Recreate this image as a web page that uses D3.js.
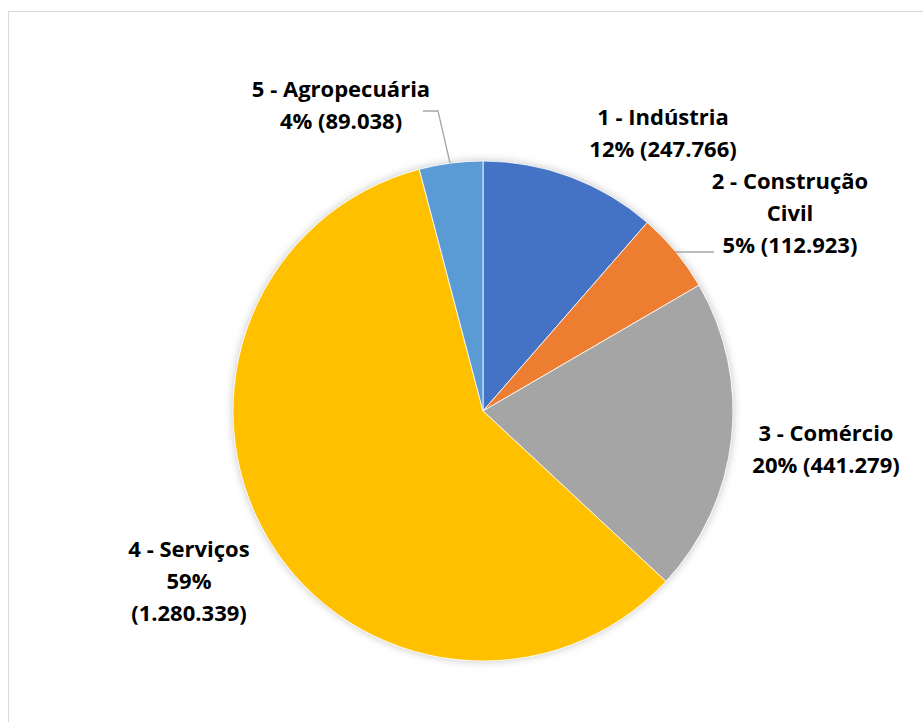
<!DOCTYPE html>
<html>
<head>
<meta charset="utf-8">
<script src="https://cdn.jsdelivr.net/npm/d3@7"></script>
<style>
  body { margin: 0; background: #fff; }
  text { font-family: "Open Sans", Lato, sans-serif; font-weight: 700; fill: #000; }
</style>
</head>
<body>
<svg id="chart"></svg>
<script>
var width = 923, height = 722;

var categories = ["1 - Indústria", "2 - Construção Civil", "3 - Comércio", "4 - Serviços", "5 - Agropecuária"];
var values = [247766, 112923, 441279, 1280339, 89038];
var pctLabels = ["12%", "5%", "20%", "59%", "4%"];
var valueLabels = ["(247.766)", "(112.923)", "(441.279)", "(1.280.339)", "(89.038)"];
var colors = ["#4472C4", "#ED7D31", "#A5A5A5", "#FFC000", "#5B9BD5"];

// label lines as in the picture (manually wrapped)
var labelLines = [
    [categories[0], pctLabels[0] + " " + valueLabels[0]],
    ["2 - Construção", "Civil", pctLabels[1] + " " + valueLabels[1]],
    [categories[2], pctLabels[2] + " " + valueLabels[2]],
    [categories[3], pctLabels[3], valueLabels[3]],
    [categories[4], pctLabels[4] + " " + valueLabels[4]]
];
var labelPos = [[663, 125], [790, 189], [826, 441], [189, 557], [341, 97]];

var cx = 483, cy = 411, radius = 250;

var svg = d3.select('#chart')
    .attr('width', width)
    .attr('height', height);

svg.append("rect")
    .attr("x", 8.5).attr("y", 11.5)
    .attr("width", width + 10).attr("height", height + 10)
    .attr("fill", "white")
    .attr("stroke", "#d9d9d9");

var defs = svg.append("defs");
var f = defs.append("filter").attr("id", "shadow")
    .attr("x", "-10%").attr("y", "-10%").attr("width", "120%").attr("height", "120%");
f.append("feDropShadow")
    .attr("dx", 0).attr("dy", 0)
    .attr("stdDeviation", 4)
    .attr("flood-color", "#000")
    .attr("flood-opacity", 0.25);

var pie = d3.pie().sort(null).value(d => d);
var arc = d3.arc().innerRadius(0).outerRadius(radius);
var arcs = pie(values);

var g = svg.append("g")
    .attr("transform", "translate(" + cx + "," + cy + ")");

g.append("circle").attr("r", radius).attr("fill", "#fff").attr("filter", "url(#shadow)");

g.selectAll("path")
    .data(arcs)
    .enter()
    .append("path")
        .attr("d", arc)
        .attr("fill", (d, i) => colors[i])
        .attr("stroke", "#fff")
        .attr("stroke-width", 0.8);

// leader lines
var leaders = [
    [[675, 252], [714, 252]],
    [[450, 163], [438, 111], [423, 111]]
];
svg.selectAll("polyline.leader")
    .data(leaders)
    .enter()
    .append("polyline")
        .attr("class", "leader")
        .attr("points", d => d.map(p => p.join(",")).join(" "))
        .attr("fill", "none")
        .attr("stroke", "#a6a6a6")
        .attr("stroke-width", 1.3);

var lineH = 32;
labelLines.forEach(function(lines, i) {
    var t = svg.append("text")
        .attr("text-anchor", "middle")
        .style("font-size", "22px");
    lines.forEach(function(s, j) {
        t.append("tspan")
            .attr("x", labelPos[i][0])
            .attr("y", labelPos[i][1] + j * lineH)
            .text(s);
    });
});
</script>
</body>
</html>
